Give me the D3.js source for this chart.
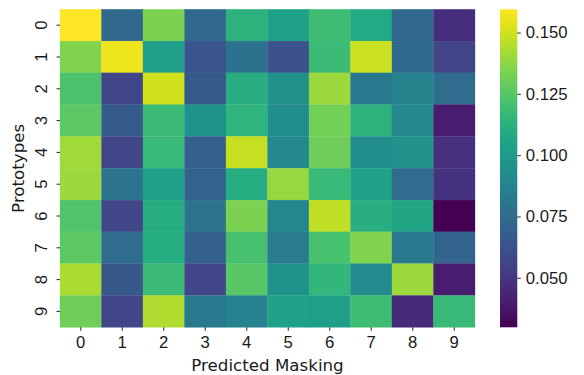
<!DOCTYPE html>
<html>
<head>
<meta charset="utf-8">
<script src="https://cdn.jsdelivr.net/npm/d3@7"></script>
<style>
  body { margin: 0; background: #fff; }
  svg { display: block; font-family: 'DejaVu Sans', sans-serif; }
  .axis path { display: none; }
  .axis line { stroke: #262626; stroke-width: 1; }
  .axis text { fill: #1a1a1a; font-size: 16.7px; }
</style>
</head>
<body>
<svg id="chart" width="584" height="375"></svg>
<script>
const predicted = ['0', '1', '2', '3', '4', '5', '6', '7', '8', '9']
const prototypes = ['0', '1', '2', '3', '4', '5', '6', '7', '8', '9']

// one array per prototype row, columns = predicted masking
const row0 = [0.1595, 0.073, 0.134, 0.073, 0.113, 0.104, 0.119, 0.108, 0.073, 0.047]
const row1 = [0.135, 0.156, 0.102, 0.064, 0.078, 0.062, 0.118, 0.149, 0.074, 0.056]
const row2 = [0.123, 0.057, 0.150, 0.066, 0.111, 0.095, 0.140, 0.082, 0.088, 0.075]
const row3 = [0.127, 0.066, 0.118, 0.096, 0.114, 0.093, 0.132, 0.113, 0.091, 0.040]
const row4 = [0.141, 0.057, 0.117, 0.069, 0.148, 0.091, 0.131, 0.093, 0.095, 0.048]
const row5 = [0.140, 0.079, 0.104, 0.070, 0.110, 0.139, 0.117, 0.104, 0.075, 0.049]
const row6 = [0.124, 0.057, 0.110, 0.079, 0.134, 0.090, 0.147, 0.111, 0.106, 0.0298]
const row7 = [0.127, 0.075, 0.110, 0.069, 0.121, 0.083, 0.122, 0.135, 0.082, 0.071]
const row8 = [0.143, 0.065, 0.118, 0.057, 0.126, 0.096, 0.115, 0.092, 0.140, 0.040]
const row9 = [0.131, 0.057, 0.144, 0.082, 0.087, 0.104, 0.102, 0.119, 0.045, 0.117]
const rows = [row0, row1, row2, row3, row4, row5, row6, row7, row8, row9]

const colorTicks = [0.05, 0.075, 0.1, 0.125, 0.15]

const svg = d3.select('#chart')
const plot = { left: 60, right: 475, top: 9.3, bottom: 327.3 }
const bar = { left: 500, right: 517.3 }

const [vmin, vmax] = d3.extent(rows.flat())

const x = d3.scaleBand().domain(predicted).range([plot.left, plot.right])
const y = d3.scaleBand().domain(prototypes).range([plot.top, plot.bottom])
const color = d3.scaleSequential(d3.interpolateViridis).domain([vmin, vmax])

const cells = []
rows.forEach((r, i) => r.forEach((v, j) => cells.push({ row: prototypes[i], col: predicted[j], v })))

svg.append('g')
  .selectAll('rect')
  .data(cells)
  .join('rect')
  .attr('x', (d) => x(d.col))
  .attr('y', (d) => y(d.row))
  .attr('width', x.bandwidth())
  .attr('height', y.bandwidth())
  .attr('fill', (d) => color(d.v))
  .attr('stroke', (d) => color(d.v))
  .attr('stroke-width', 0.3)

// x axis
const gx = svg.append('g')
  .attr('class', 'axis')
  .attr('transform', `translate(0,${plot.bottom})`)
  .call(d3.axisBottom(x).tickSize(3.5).tickPadding(5))
gx.selectAll('text').attr('dy', '0.71em')

// y axis, labels rotated
const gy = svg.append('g')
  .attr('class', 'axis')
  .attr('transform', `translate(${plot.left},0)`)
  .call(d3.axisLeft(y).tickSize(3.5))
gy.selectAll('text')
  .attr('x', null)
  .attr('dy', null)
  .attr('text-anchor', 'middle')
  .attr('transform', 'translate(-13.3,0) rotate(-90)')

svg.append('text')
  .attr('x', (plot.left + plot.right) / 2)
  .attr('y', 371)
  .attr('text-anchor', 'middle')
  .attr('font-size', '16.7px')
  .attr('fill', '#1a1a1a')
  .text('Predicted Masking')

svg.append('text')
  .attr('transform', `translate(24,${(plot.top + plot.bottom) / 2}) rotate(-90)`)
  .attr('text-anchor', 'middle')
  .attr('font-size', '16.7px')
  .attr('fill', '#1a1a1a')
  .text('Prototypes')

// colorbar
const cy = d3.scaleLinear().domain([vmin, vmax]).range([plot.bottom, plot.top])
const defs = svg.append('defs')
const grad = defs.append('linearGradient')
  .attr('id', 'cbar')
  .attr('x1', 0).attr('x2', 0).attr('y1', 1).attr('y2', 0)
grad.selectAll('stop')
  .data(d3.range(0, 1.0001, 0.02))
  .join('stop')
  .attr('offset', (d) => d)
  .attr('stop-color', (d) => d3.interpolateViridis(d))

svg.append('rect')
  .attr('x', bar.left)
  .attr('y', plot.top)
  .attr('width', bar.right - bar.left)
  .attr('height', plot.bottom - plot.top)
  .attr('fill', 'url(#cbar)')

svg.append('g')
  .attr('class', 'axis')
  .attr('transform', `translate(${bar.right},0)`)
  .call(d3.axisRight(cy).tickValues(colorTicks).tickFormat(d3.format('.3f')).tickSize(3.5).tickPadding(5))
</script>
</body>
</html>
